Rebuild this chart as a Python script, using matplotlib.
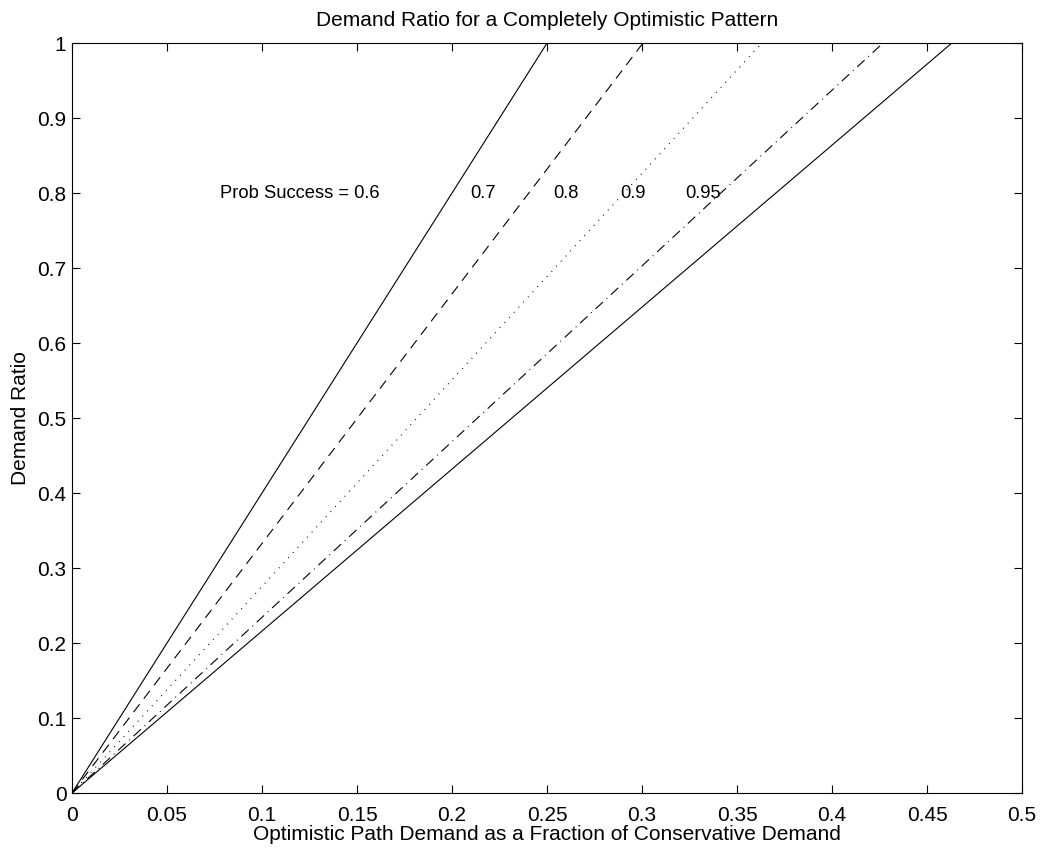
import numpy as np
import matplotlib.pyplot as plt

plt.rcParams['font.family'] = ['Liberation Sans', 'DejaVu Sans']
plt.rcParams['lines.scale_dashes'] = False

# x value where each curve reaches demand ratio 1
prob = ["0.6", "0.7", "0.8", "0.9", "0.95"]
x_end = [0.25, 0.3005, 0.363, 0.4268, 0.463]
estilos = ["-", (0, (7.2, 5.0)), (0, (0.7, 4.3)), (0, (7.2, 3.6, 0.7, 3.6)), "-"]

# etiquetas de texto (x en datos, y = 0.8)
etiquetas = ["Prob Success = 0.6", "0.7", "0.8", "0.9", "0.95"]
x_etiq = [0.078, 0.2095, 0.253, 0.2885, 0.3226]
y_etiq = 0.8

fig = plt.figure(figsize=(10.43, 8.52), dpi=100)
ax = fig.add_axes([0.069, 0.0692, 0.911, 0.8803])

for xe, ls in zip(x_end, estilos):
    ax.plot([0, xe], [0, 1], color="k", linestyle=ls, linewidth=0.8)

for txt, xt in zip(etiquetas, x_etiq):
    ax.text(xt, y_etiq, txt, fontsize=13.2, va="center", ha="left")

ax.set_xlim(0, 0.5)
ax.set_ylim(0, 1)
xt = np.arange(0, 0.501, 0.05)
yt = np.arange(0, 1.001, 0.1)
ax.set_xticks(xt)
ax.set_yticks(yt)
ax.set_xticklabels(["0"] + [f"{v:g}" for v in xt[1:]])
ax.set_yticklabels(["0"] + [f"{v:g}" for v in yt[1:]])
ax.tick_params(direction="in", top=True, right=True, labelsize=15, length=6)
ax.tick_params(axis="x", pad=9)
ax.tick_params(axis="y", pad=4)
for s in ax.spines.values():
    s.set_linewidth(0.8)

ax.set_title("Demand Ratio for a Completely Optimistic Pattern", fontsize=15, pad=12)
ax.set_xlabel("Optimistic Path Demand as a Fraction of Conservative Demand", fontsize=15, labelpad=0)
ax.set_ylabel("Demand Ratio", fontsize=15, labelpad=5)

plt.savefig("out.png", dpi=100)
